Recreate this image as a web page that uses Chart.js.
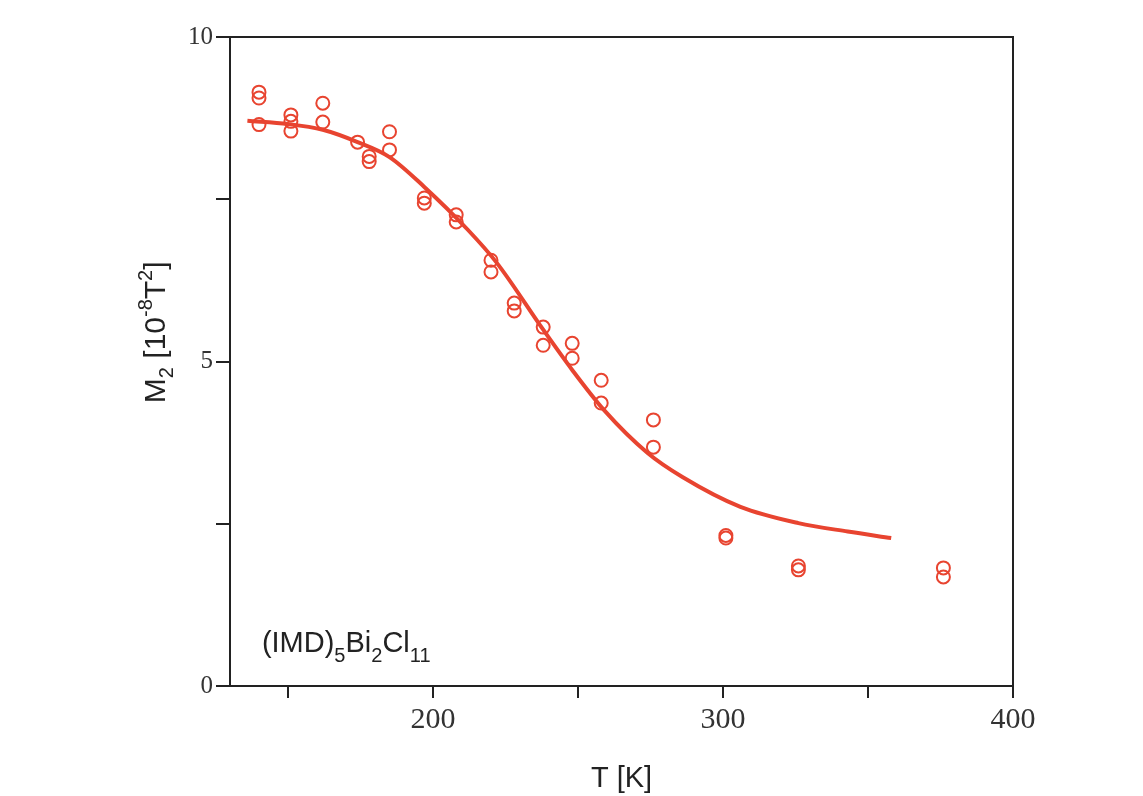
<!DOCTYPE html>
<html>
<head>
<meta charset="utf-8">
<script src="https://cdn.jsdelivr.net/npm/chart.js@4.4.1/dist/chart.umd.min.js"></script>
<style>
  html, body { margin: 0; padding: 0; background: #fff; }
  #wrap { width: 1143px; height: 796px; }
</style>
</head>
<body>
<div id="wrap"><canvas id="grafico"></canvas></div>
<script>
// pontos medidos
var temp_pontos = [140, 140, 140, 151, 151, 151, 162, 162, 174, 178, 178, 185, 185, 197, 197, 208, 208,
    220, 220, 228, 228, 238, 238, 248, 248, 258, 258, 276, 276, 301, 301, 326, 326, 376, 376];
var m2_pontos = [9.15, 9.06, 8.65, 8.8, 8.7, 8.55, 8.98, 8.69, 8.38, 8.16, 8.08, 8.54, 8.26, 7.52, 7.44, 7.26, 7.15,
    6.56, 6.38, 5.9, 5.78, 5.53, 5.25, 5.28, 5.05, 4.71, 4.36, 4.1, 3.68, 2.32, 2.28, 1.85, 1.79, 1.82, 1.68];

// curva ajustada
var temp_ajuste = [136, 150, 162, 174, 185, 197, 212, 222, 238, 248, 259, 274, 286, 306, 326, 343, 358];
var m2_ajuste = [8.71, 8.66, 8.57, 8.38, 8.15, 7.69, 7.03, 6.52, 5.49, 4.87, 4.25, 3.59, 3.22, 2.76, 2.51, 2.38, 2.28];

var ticks_x = [150, 200, 250, 300, 350, 400];
var ticks_y = [0, 2.5, 5, 7.5, 10];

var vermelho = 'rgb(232, 68, 48)';

// moldura, titulos e nome do composto
var extras = {
    id: 'extras',
    afterDraw: function (chart) {
        var c = chart.ctx;
        var a = chart.chartArea;
        c.save();
        c.strokeStyle = '#222';
        c.lineWidth = 2;
        c.beginPath();
        c.moveTo(a.left, a.top);
        c.lineTo(a.right, a.top);
        c.lineTo(a.right, a.bottom);
        c.stroke();

        c.fillStyle = '#222';
        c.textBaseline = 'alphabetic';
        // titulo eixo x
        c.font = '29px "Liberation Sans"';
        c.textAlign = 'center';
        c.fillText('T [K]', (a.left + a.right) / 2, 787);

        // titulo eixo y (rotacionado)
        c.save();
        c.translate(165, a.top + (a.bottom - a.top) * 0.455);
        c.rotate(-Math.PI / 2);
        var partes = [
            ['M', 0, 30], ['2', 8, 20], [' [10', 0, 30], ['-8', -13, 20], ['T', 0, 30], ['2', -13, 20], [']', 0, 30]
        ];
        var total = 0;
        partes.forEach(function (p) { c.font = p[2] + 'px "Liberation Sans"'; total += c.measureText(p[0]).width; });
        var px = -total / 2;
        c.textAlign = 'left';
        partes.forEach(function (p) {
            c.font = p[2] + 'px "Liberation Sans"';
            c.fillText(p[0], px, p[1]);
            px += c.measureText(p[0]).width;
        });
        c.restore();

        // nome do composto
        var sx = chart.scales.x.getPixelForValue(141);
        var sy = chart.scales.y.getPixelForValue(0.52);
        var nome = [['(IMD)', 0, 29], ['5', 10, 20], ['Bi', 0, 29], ['2', 10, 20], ['Cl', 0, 29], ['11', 10, 20]];
        c.textAlign = 'left';
        nome.forEach(function (p) {
            c.font = p[2] + 'px "Liberation Sans"';
            c.fillText(p[0], sx, sy + p[1]);
            sx += c.measureText(p[0]).width;
        });
        c.restore();
    }
};

var pontos = temp_pontos.map(function (t, i) { return { x: t, y: m2_pontos[i] }; });
var ajuste = temp_ajuste.map(function (t, i) { return { x: t, y: m2_ajuste[i] }; });

var config = {
    type: 'scatter',
    data: {
        datasets: [
            {
                label: 'ajuste',
                data: ajuste,
                showLine: true,
                borderColor: vermelho,
                borderWidth: 4,
                pointRadius: 0,
                cubicInterpolationMode: 'monotone',
                fill: false
            },
            {
                label: 'medidas',
                data: pontos,
                pointStyle: 'circle',
                pointRadius: 6.5,
                borderColor: vermelho,
                backgroundColor: 'rgba(0,0,0,0)',
                pointBorderWidth: 2
            }
        ]
    },
    options: {
        responsive: false,
        animation: false,
        layout: { padding: { top: 37, right: 130, left: 0, bottom: 0 } },
        scales: {
            x: {
                type: 'linear',
                min: 130,
                max: 400,
                afterBuildTicks: function (s) { s.ticks = ticks_x.map(function (v) { return { value: v }; }); },
                afterFit: function (s) { s.height = 110; },
                grid: { drawOnChartArea: false, drawTicks: true, tickLength: 12, color: '#222', lineWidth: 2 },
                border: { display: true, color: '#222', width: 2 },
                ticks: {
                    color: '#333',
                    padding: 4,
                    font: { family: 'Liberation Serif', size: 30 },
                    callback: function (v) { return v % 100 === 0 ? v : ''; }
                }
            },
            y: {
                type: 'linear',
                min: 0,
                max: 10,
                afterBuildTicks: function (s) { s.ticks = ticks_y.map(function (v) { return { value: v }; }); },
                afterFit: function (s) { s.width = 230; },
                grid: { drawOnChartArea: false, drawTicks: true, tickLength: 14, color: '#222', lineWidth: 2 },
                border: { display: true, color: '#222', width: 2 },
                ticks: {
                    color: '#333',
                    padding: 3,
                    font: { family: 'Liberation Serif', size: 25 },
                    callback: function (v) { return v % 5 === 0 ? v : ''; }
                }
            }
        },
        plugins: {
            legend: { display: false },
            tooltip: { enabled: false }
        }
    },
    plugins: [extras]
};

var canvas = document.getElementById('grafico');
canvas.width = 1143;
canvas.height = 796;
var grafico = new Chart(canvas.getContext('2d'), config);
</script>
</body>
</html>
